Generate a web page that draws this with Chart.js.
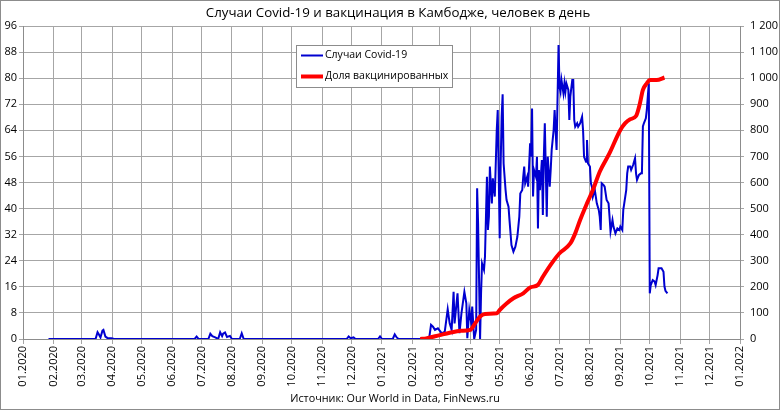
<!DOCTYPE html>
<html>
<head>
<meta charset="utf-8">
<script src="https://cdn.jsdelivr.net/npm/chart.js@4.4.1/dist/chart.umd.min.js"></script>
<style>
  html, body { margin: 0; padding: 0; background: #fff; }
  #wrap { width: 780px; height: 410px; }
</style>
</head>
<body>
<div id="wrap"><canvas id="covidChart" width="780" height="410"></canvas></div>
<script>
// texts
const chartTitle = 'Случаи Covid-19 и вакцинация в Камбодже, человек в день';
const sourceText = 'Источник: Our World in Data, FinNews.ru';
const seriesNames = ['Случаи Covid-19', 'Доля вакцинированных'];

// x axis tick labels (month starts)
const monthLabels = ['01.2020', '02.2020', '03.2020', '04.2020', '05.2020', '06.2020', '07.2020',
    '08.2020', '09.2020', '10.2020', '11.2020', '12.2020', '01.2021', '02.2021', '03.2021',
    '04.2021', '05.2021', '06.2021', '07.2021', '08.2021', '09.2021', '10.2021', '11.2021',
    '12.2021', '01.2022'];

// axis ranges
const leftAxis = { min: 0, max: 96, step: 8 };
const rightAxis = { min: 0, max: 1200, step: 100 };

// daily cases (right axis), day = days since 01.01.2020
const caseDays = [26, 74, 76, 77, 79, 81, 82, 84, 86, 90, 93, 175, 177, 179, 189, 191, 193, 196, 199, 201,
    203, 204, 206, 208, 211, 213, 221, 223, 225, 330, 332, 334, 337, 339, 362, 364, 366, 377, 379, 381,
    383, 414,
    416, 418, 420, 423, 427, 430, 433, 435, 437, 439, 440, 443, 445, 447, 450, 452, 453, 455, 457, 458,
    460, 462, 463, 464, 466, 467, 468, 470, 471, 473, 474, 475, 476, 478, 479, 481, 482, 483, 484, 486,
    487, 488, 489, 490, 492, 493, 495, 496, 498, 500, 502, 504, 506, 507, 509, 510, 511, 512, 514, 515,
    517, 518, 519, 520, 521, 523, 524, 525, 526, 527, 529, 530, 531, 532, 534, 535, 537, 538, 539, 541,
    542, 544, 545, 546, 547, 548, 549, 551, 552, 553, 554, 556, 557, 558, 560, 561, 562, 563, 565, 566,
    568, 570, 571, 572, 574, 575, 576, 578, 579, 580, 581, 583, 585, 587, 588, 589, 590, 592, 593, 595,
    597, 598, 599, 601, 602, 604, 606, 608, 609, 611, 612, 613, 615, 616, 617, 619, 620, 622, 624, 625,
    626, 628, 630, 631, 632, 633, 635, 636, 637, 638, 639, 640, 642, 644, 645, 647, 648, 651, 653, 654,
    655, 657];
const caseValues = [0, 0, 26, 20, 6, 32, 35, 9, 4, 3, 0, 0, 9, 0, 0, 20, 11, 6, 0, 26,
    11, 20, 25, 8, 12, 0, 0, 22, 0, 0, 10, 3, 6, 0, 0, 10, 0, 0, 18, 6,
    0, 0,
    54, 47, 35, 41, 22, 28, 114, 60, 35, 181, 60, 175, 22, 98, 181, 137, 3, 111, 60, 124,
    0, 35, 578, 443, 0, 175, 290, 265, 316, 622, 418, 469, 661, 520, 616, 546, 673, 801, 878, 386,
    673, 852, 938, 673, 571, 533, 507, 456, 360, 335, 354, 392, 469, 558, 571, 622, 661, 597, 622, 584,
    750, 699, 884, 546, 648, 622, 699, 424, 648, 571, 686, 475, 699, 827, 469, 699, 584, 648, 725, 801,
    878, 725, 929, 1127, 967, 948, 993, 942, 980, 948, 980, 955, 840, 929, 993, 993, 840, 814, 827, 814,
    827, 852, 801, 699, 680, 763, 673, 661, 597, 584, 546, 571, 520, 495, 469, 418, 597, 590, 584, 533,
    520, 469, 412, 456, 431, 405, 424, 418, 431, 418, 495, 520, 571, 635, 661, 661, 648, 667, 693, 635,
    610, 629, 635, 635, 815, 827, 846, 878, 929, 980, 175, 207, 226, 220, 207, 245, 271, 271, 258, 201,
    185, 175];

// vaccinated share, % (left axis)
const vaccDays = [405, 411, 425, 435, 446, 456, 461, 466, 471, 483, 486, 493, 500, 510, 517, 525, 530,
    539, 547, 558, 563, 568, 575, 581, 588, 598, 609, 614, 619, 625, 629, 632, 636, 639, 646, 654];
const vaccValues = [0, 0.2, 1.2, 1.9, 2.5, 2.8, 4.8, 6.9, 7.7, 7.9, 8.9, 10.9, 12.5, 14.0, 15.8, 16.6, 19.1,
    23.2, 26.3, 29.3, 32.4, 36.5, 41.6, 45.7, 51.3, 57.0, 64.1, 66.2, 67.4, 68.4, 72.3, 76.4, 78.4, 79.4, 79.4, 80.2];

const DAY_MS = 86400000;
const startUTC = Date.UTC(2020, 0, 1);
const monthPositions = monthLabels.map(l => {
    const [m, y] = l.split('.').map(Number);
    return (Date.UTC(y, m - 1, 1) - startUTC) / DAY_MS;
});

const gridColor = '#a6a6a6';
const axisColor = '#8c8c8c';
const fontFamily = '"Open Sans", "Noto Sans", sans-serif';

const blueColor = '#0000d0';
const redColor = '#ff0000';

const decorPlugin = {
    id: 'decor',
    afterDraw(chart) {
        const ctx = chart.ctx;
        ctx.save();
        // outer frame
        ctx.strokeStyle = axisColor;
        ctx.lineWidth = 1;
        ctx.strokeRect(0.5, 0.5, chart.width - 1, chart.height - 1);

        ctx.fillStyle = '#000';
        ctx.textAlign = 'center';
        ctx.textBaseline = 'middle';
        ctx.font = '13.3px ' + fontFamily;
        ctx.fillText(chartTitle, 398, 13);
        ctx.font = '10.8px ' + fontFamily;
        ctx.fillText(sourceText, 395, 399);

        // legend box
        ctx.fillStyle = '#fff';
        ctx.fillRect(296, 45, 156, 42);
        ctx.strokeStyle = axisColor;
        ctx.strokeRect(296.5, 45.5, 156, 42);
        const rows = [
            { name: seriesNames[0], color: blueColor, width: 2, y: 55.5 },
            { name: seriesNames[1], color: redColor, width: 4, y: 76.5 }
        ];
        ctx.textAlign = 'left';
        ctx.font = '10.5px ' + fontFamily;
        rows.forEach(r => {
            ctx.strokeStyle = r.color;
            ctx.lineWidth = r.width;
            ctx.beginPath();
            ctx.moveTo(301, r.y);
            ctx.lineTo(323, r.y);
            ctx.stroke();
            ctx.fillStyle = '#000';
            ctx.fillText(r.name, 325, r.y);
        });
        ctx.restore();
    }
};

const tickFont = { family: fontFamily, size: 11 };

new Chart(document.getElementById('covidChart').getContext('2d'), {
    type: 'line',
    data: {
        datasets: [
            {
                label: seriesNames[0],
                data: caseDays.map((d, i) => ({ x: d, y: caseValues[i] })),
                yAxisID: 'yRight',
                borderColor: blueColor,
                borderWidth: 2,
                pointRadius: 0,
                tension: 0,
                order: 1
            },
            {
                label: seriesNames[1],
                data: vaccDays.map((d, i) => ({ x: d, y: vaccValues[i] })),
                yAxisID: 'yLeft',
                borderColor: redColor,
                borderWidth: 4,
                pointRadius: 0,
                tension: 0.3,
                cubicInterpolationMode: 'monotone',
                order: 0
            }
        ]
    },
    options: {
        responsive: false,
        animation: false,
        layout: { padding: { top: 26, left: 0, right: 0, bottom: 0 } },
        plugins: {
            legend: { display: false },
            title: { display: false },
            tooltip: { enabled: false }
        },
        scales: {
            x: {
                type: 'linear',
                min: monthPositions[0],
                max: monthPositions[monthPositions.length - 1],
                afterBuildTicks: scale => { scale.ticks = monthPositions.map(v => ({ value: v })); },
                afterFit: scale => { scale.height = 71; },
                ticks: {
                    autoSkip: false,
                    maxRotation: 90,
                    minRotation: 90,
                    padding: 2,
                    color: '#000',
                    font: tickFont,
                    callback: v => monthLabels[monthPositions.indexOf(v)]
                },
                grid: { color: gridColor, tickLength: 5 },
                border: { color: axisColor }
            },
            yLeft: {
                position: 'left',
                min: leftAxis.min,
                max: leftAxis.max,
                afterFit: scale => { scale.width = 23; },
                ticks: { stepSize: leftAxis.step, padding: 2, color: '#000', font: tickFont },
                grid: { color: gridColor, tickLength: 4 },
                border: { color: axisColor }
            },
            yRight: {
                position: 'right',
                min: rightAxis.min,
                max: rightAxis.max,
                afterFit: scale => { scale.width = 40; },
                ticks: {
                    stepSize: rightAxis.step,
                    padding: 6,
                    color: '#000',
                    font: tickFont,
                    callback: v => String(v).replace(/\B(?=(\d{3})+(?!\d))/g, ' ')
                },
                grid: { drawOnChartArea: false, color: gridColor, tickLength: 4 },
                border: { color: axisColor }
            }
        }
    },
    plugins: [decorPlugin]
});
</script>
</body>
</html>
